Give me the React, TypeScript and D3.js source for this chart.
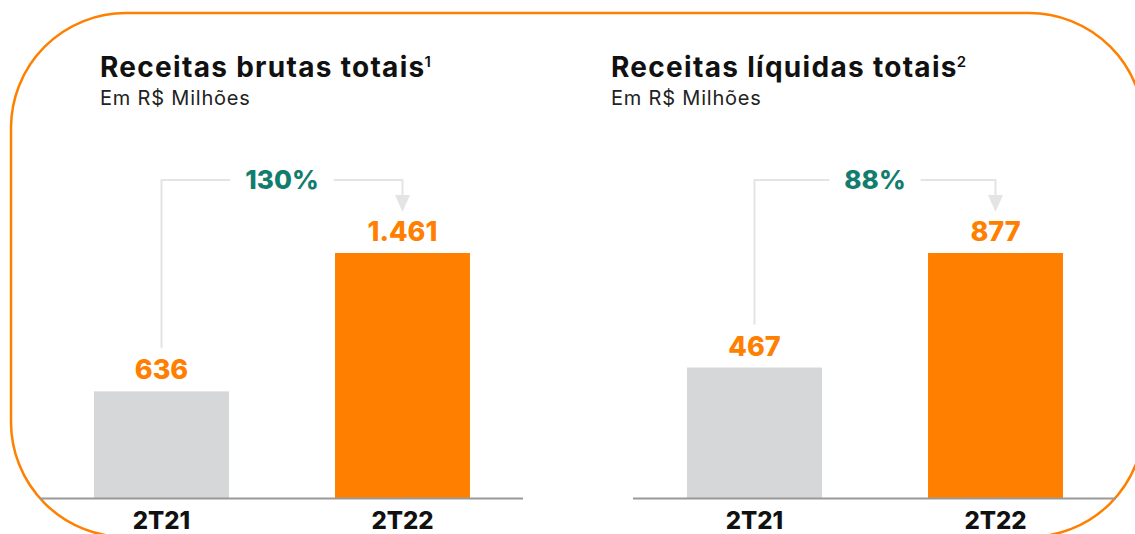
import React, { useEffect, useRef } from 'react';
import * as d3 from 'd3';

const categories = ['2T21', '2T22'];
const brutasValues = [636, 1461];
const brutasLabels = ['636', '1.461'];
const liquidasValues = [467, 877];
const liquidasLabels = ['467', '877'];
const growthLabels = ['130%', '88%'];
const titles = ['Receitas brutas totais', 'Receitas líquidas totais'];
const superscripts = ['1', '2'];
const subtitle = 'Em R$ Milhões';

const ORANGE = '#FF8000';
const TEAL = '#127D6E';
const GRAY_BAR = '#D6D7D9';
const BRACKET = '#E4E4E4';
const AXIS = '#999999';
const FONT = 'Inter, "Noto Sans", sans-serif';

export default function App() {
  const ref = useRef<SVGSVGElement | null>(null);

  useEffect(() => {
    const svg = d3.select(ref.current);
    svg.selectAll('*').remove();

    // Rounded border
    svg.append('rect')
      .attr('x', 11).attr('y', 13)
      .attr('width', 1133).attr('height', 524)
      .attr('rx', 115).attr('ry', 115)
      .attr('fill', 'none')
      .attr('stroke', ORANGE)
      .attr('stroke-width', 2.5);

    const panels = [
      { x0: 41, titleX: 100, values: brutasValues, labels: brutasLabels, growth: growthLabels[0], title: titles[0], sup: superscripts[0] },
      { x0: 634, titleX: 611, values: liquidasValues, labels: liquidasLabels, growth: growthLabels[1], title: titles[1], sup: superscripts[1] },
    ];

    const baseY = 498;
    const topY = 253;

    panels.forEach((p) => {
      const g = svg.append('g');
      const x = d3.scaleBand<string>()
        .domain(categories)
        .range([p.x0, p.x0 + 482])
        .paddingInner(0.44)
        .paddingOuter(0.22);
      const y = d3.scaleLinear()
        .domain([0, d3.max(p.values) as number])
        .range([baseY, topY]);

      // Title
      const t = g.append('text')
        .attr('x', p.titleX).attr('y', 77)
        .attr('font-family', FONT)
        .attr('font-weight', 700)
        .attr('font-size', 28)
        .attr('letter-spacing', 1.3)
        .attr('fill', '#111');
      t.append('tspan').text(p.title);
      t.append('tspan').text(p.sup)
        .attr('font-size', 15)
        .attr('dy', -10)
        .attr('dx', -1)
        .attr('letter-spacing', 0)
        .attr('font-weight', 600);

      g.append('text')
        .attr('x', p.titleX).attr('y', 105)
        .attr('font-family', FONT)
        .attr('font-weight', 400)
        .attr('font-size', 20)
        .attr('letter-spacing', 0.8)
        .attr('fill', '#222')
        .text(subtitle);

      // Bars
      g.selectAll('rect.bar')
        .data(p.values)
        .join('rect')
        .attr('class', 'bar')
        .attr('x', (_, i) => x(categories[i]) as number)
        .attr('y', (d) => y(d))
        .attr('width', x.bandwidth())
        .attr('height', (d) => baseY - y(d))
        .attr('fill', (_, i) => (i === 0 ? GRAY_BAR : ORANGE));

      // Baseline
      g.append('line')
        .attr('x1', p.x0 - 1).attr('x2', p.x0 + 482)
        .attr('y1', baseY + 0.5).attr('y2', baseY + 0.5)
        .attr('stroke', AXIS)
        .attr('stroke-width', 2);

      // Value labels
      g.selectAll('text.val')
        .data(p.values)
        .join('text')
        .attr('class', 'val')
        .attr('x', (_, i) => (x(categories[i]) as number) + x.bandwidth() / 2)
        .attr('y', (d) => y(d) - 12)
        .attr('text-anchor', 'middle')
        .attr('font-family', FONT)
        .attr('font-weight', 800)
        .attr('font-size', 27)
        .attr('fill', ORANGE)
        .text((_, i) => p.labels[i]);

      // Category labels
      g.selectAll('text.cat')
        .data(categories)
        .join('text')
        .attr('class', 'cat')
        .attr('x', (d) => (x(d) as number) + x.bandwidth() / 2)
        .attr('y', 529)
        .attr('text-anchor', 'middle')
        .attr('font-family', FONT)
        .attr('font-weight', 800)
        .attr('font-size', 24)
        .attr('fill', '#111')
        .text((d) => d);

      // Growth bracket
      const cx1 = (x(categories[0]) as number) + x.bandwidth() / 2;
      const cx2 = (x(categories[1]) as number) + x.bandwidth() / 2;
      const by = 180;
      const lowTop = y(p.values[0]) - 12 - 20 - 11;
      const mid = (cx1 + cx2) / 2;

      const gt = g.append('text')
        .attr('x', mid).attr('y', by + 9)
        .attr('text-anchor', 'middle')
        .attr('font-family', FONT)
        .attr('font-weight', 800)
        .attr('font-size', 26)
        .attr('fill', TEAL)
        .text(p.growth);
      const tw = (gt.node() as SVGTextElement).getComputedTextLength();
      const half = tw / 2 + 15;

      g.append('path')
        .attr('d', `M${cx1},${lowTop}V${by}H${mid - half}`)
        .attr('fill', 'none')
        .attr('stroke', BRACKET)
        .attr('stroke-width', 2);
      g.append('path')
        .attr('d', `M${mid + half},${by}H${cx2}V${196}`)
        .attr('fill', 'none')
        .attr('stroke', BRACKET)
        .attr('stroke-width', 2);
      g.append('path')
        .attr('d', `M${cx2 - 7.5},${195}L${cx2 + 7.5},${195}L${cx2},${212}Z`)
        .attr('fill', BRACKET);
    });
  }, []);

  return (
    <svg
      ref={ref}
      width={1135}
      height={534}
      style={{ position: 'absolute', left: 0, top: 0, background: '#fff' }}
    />
  );
}
